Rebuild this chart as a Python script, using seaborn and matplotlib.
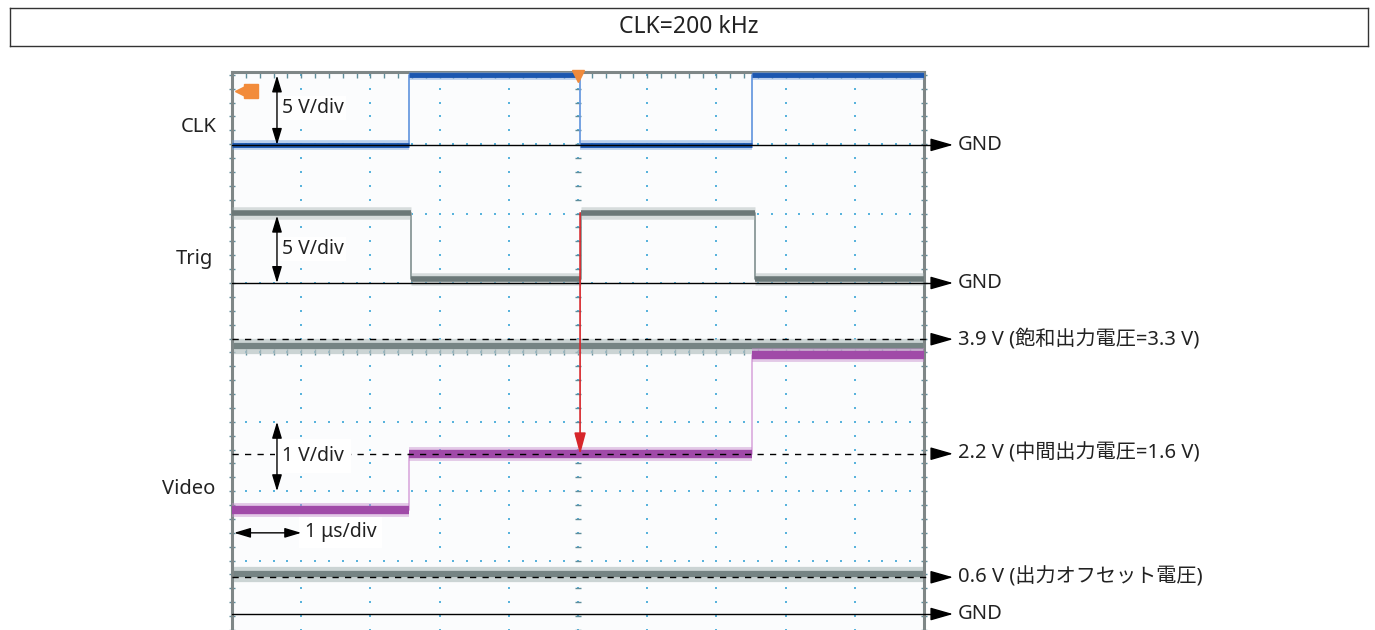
import numpy as np
import seaborn as sns
import matplotlib
matplotlib.use('Agg')
from matplotlib import pyplot as plt

# time base: 1 us/div, 10 div on screen
clk_t = [0.0, 2.56, 5.03, 7.51, 10.0]
clk_v = [0.0, 5.0, 0.0, 5.0, 5.0]
trig_t = [0.0, 2.59, 5.04, 7.56, 10.0]
trig_v = [5.05, 0.3, 5.05, 0.3, 0.3]
video_t = [0.0, 2.56, 7.51, 10.0]
video_v = [1.5, 2.3, 3.73, 3.73]
ref_v = [3.86, 0.58]                # gray reference traces
mark_v = [3.96, 2.31, 0.53]         # dashed marker levels
mark_text = ['3.9 V (飽和出力電圧=3.3 V)',
             '2.2 V (中間出力電圧=1.6 V)',
             '0.6 V (出力オフセット電圧)']
trig_point = 5.03                   # red arrow time

# channel GND position on screen (div from bottom) and V/div
clk_gnd, clk_scale = 6.99, 5.0
trig_gnd, trig_scale = 5.0, 5.0
video_gnd, video_scale = 0.23, 1.0

sns.set_theme(style='white')
plt.rcParams['font.family'] = ['Noto Sans', 'Noto Sans CJK JP', 'DejaVu Sans']
FS = 14
TXT = '#222222'

fig = plt.figure(figsize=(13.75, 6.3), dpi=100)

# title box
ax_t = fig.add_axes([10 / 1375, (630 - 46) / 630, 1358 / 1375, 38 / 630])
ax_t.set_xticks([])
ax_t.set_yticks([])
for s in ax_t.spines.values():
    s.set_color('#333333')
    s.set_linewidth(1)
ax_t.text(0.5, 0.5, 'CLK=200 kHz', ha='center', va='center', fontsize=16.5,
          color=TXT, transform=ax_t.transAxes)

# scope screen
ax = fig.add_axes([232 / 1375, 0, 692 / 1375, 558 / 630])
ax.set_facecolor('#fbfcfd')
ax.set_xlim(0, 10)
ax.set_ylim(0, 558 / 69.4)
ax.set_xticks([])
ax.set_yticks([])
for k in ['left', 'right', 'top']:
    ax.spines[k].set_color('#7f8787')
    ax.spines[k].set_linewidth(2.2)
ax.spines['bottom'].set_visible(False)

# dotted graticule
fine = np.arange(0, 10.01, 0.2)
fine_y = np.arange(0, 8.01, 0.2)
for gx in range(1, 10):
    ax.scatter(np.full(fine_y.size, gx), fine_y, s=3, marker='s', color='#59b3dc',
               linewidths=0, zorder=1)
for gy in range(1, 8):
    ax.scatter(fine, np.full(fine.size, gy), s=3, marker='s', color='#59b3dc',
               linewidths=0, zorder=1)
for gx in [0, 5, 10]:
    ax.plot(np.full(fine_y.size, gx), fine_y, ls='none', marker='_', ms=5,
            mew=1, color='#5f8d9b', zorder=1, clip_on=False)
for gy in [4, 8]:
    ax.plot(fine, np.full(fine.size, gy), ls='none', marker='|', ms=5,
            mew=1, color='#5f8d9b', zorder=1, clip_on=False)


def trace(t, v, gnd, scale, core, halo, core_lw, halo_lw, edge, z):
    t = np.asarray(t)
    y = gnd + np.asarray(v) / scale
    sns.lineplot(x=t, y=y, drawstyle='steps-post', color=edge, lw=1.3, ax=ax,
                 zorder=z)
    ax.hlines(y[:-1], t[:-1], t[1:], colors=halo, lw=halo_lw, alpha=0.45, zorder=z)
    ax.hlines(y[:-1], t[:-1], t[1:], colors=core, lw=core_lw, zorder=z)


# gray reference traces
for rv in ref_v:
    yy = video_gnd + rv / video_scale
    ax.hlines(yy, 0, 10, colors='#b7c3c3', lw=11, alpha=0.7, zorder=2)
    ax.hlines(yy, 0, 10, colors='#768484', lw=4.5, zorder=2)

trace(clk_t, clk_v, clk_gnd, clk_scale, '#1c57b0', '#6d98d8', 3.5, 7, '#6a9be0', 3)
trace(trig_t, trig_v, trig_gnd, trig_scale, '#6b7878', '#a9b5b5', 4, 9, '#8a9898', 3)
trace(video_t, video_v, video_gnd, video_scale, '#a04aa8', '#c78ccd', 6, 10, '#dcb0e0', 3)

# GND lines with arrows
x_end, x_tip, x_txt = 10.2, 10.42, 10.49
arrow_kw = dict(arrowstyle='-|>,head_length=1.4,head_width=0.4', color='black',
                lw=1, shrinkA=0, shrinkB=0, mutation_scale=10)
for g in [clk_gnd, trig_gnd, video_gnd]:
    ax.plot([0, x_end], [g, g], color='black', lw=1, zorder=4, clip_on=False)
    ax.annotate('', xy=(x_tip, g), xytext=(x_end, g), arrowprops=arrow_kw,
                annotation_clip=False, zorder=5)
    ax.text(x_txt, g, 'GND', ha='left', va='center', fontsize=14.5,
            color=TXT, clip_on=False)

# dashed marker lines
for mv, txt in zip(mark_v, mark_text):
    yy = video_gnd + mv / video_scale
    ax.plot([0, x_end], [yy, yy], color='black', lw=1, ls=(0, (4.5, 4.5)),
            zorder=4, clip_on=False)
    ax.annotate('', xy=(x_tip, yy), xytext=(x_end, yy), arrowprops=arrow_kw,
                annotation_clip=False, zorder=5)
    ax.text(x_txt, yy, txt, ha='left', va='center', fontsize=14.5,
            color=TXT, clip_on=False)

# channel names
for lx, ly, name in [(-0.48, 7.25, 'CLK'), (-0.54, 5.35, 'Trig'),
                     (-0.62, 2.03, 'Video')]:
    ax.text(lx, ly, name, ha='center', va='center', fontsize=14.5,
            color=TXT, clip_on=False)

# scale arrows (drawn above the white text boxes)
dbl = dict(arrowstyle='<|-|>,head_length=1.0,head_width=0.3', color='black',
           lw=1, shrinkA=0, shrinkB=0, mutation_scale=10)
ax.annotate('', xy=(0.65, clk_gnd + 5 / clk_scale), xytext=(0.65, clk_gnd),
            arrowprops=dbl, zorder=9)
ax.annotate('', xy=(0.65, trig_gnd + 5 / trig_scale * 0.97), xytext=(0.65, trig_gnd),
            arrowprops=dbl, zorder=9)
ax.annotate('', xy=(0.65, 3.0), xytext=(0.65, 2.0), arrowprops=dbl, zorder=9)
ax.annotate('', xy=(1.0, 1.40), xytext=(0.03, 1.40), arrowprops=dbl, zorder=9)

box = dict(facecolor='white', edgecolor='none', pad=1.5)
ax.text(0.72, 7.52, '5 V/div', ha='left', va='center', fontsize=FS,
        color=TXT, bbox=box, zorder=7)
ax.text(0.72, 5.49, '5 V/div', ha='left', va='center', fontsize=FS,
        color=TXT, bbox=box, zorder=7)
ax.text(0.72, 2.51, '1 V/div', ha='left', va='center', fontsize=FS,
        color=TXT, bbox=dict(facecolor='white', edgecolor='none', pad=5),
        zorder=7)
ax.text(1.05, 1.41, '1 μs/div', ha='left', va='center', fontsize=FS,
        color=TXT, bbox=dict(facecolor='white', edgecolor='none', pad=4),
        zorder=7)

# trigger relation arrow
ax.annotate('', xy=(trig_point, video_gnd + video_v[1] / video_scale),
            xytext=(trig_point, trig_gnd + trig_v[0] / trig_scale),
            arrowprops=dict(arrowstyle='-|>,head_length=1.3,head_width=0.35',
                            color='#d7262b', lw=1.2, shrinkA=0, shrinkB=0,
                            mutation_scale=10), zorder=6)

# scope markers
ax.plot([5.0], [7.98], marker='v', ms=9, color='#f08a3c', ls='none',
        clip_on=False, zorder=6)
ax.plot([0.14], [7.76], marker='<', ms=10, color='#f28b3a', ls='none', zorder=6)
ax.plot([0.28], [7.76], marker='s', ms=10, color='#f28b3a', ls='none', zorder=6)

fig.savefig('out.png', dpi=100)
